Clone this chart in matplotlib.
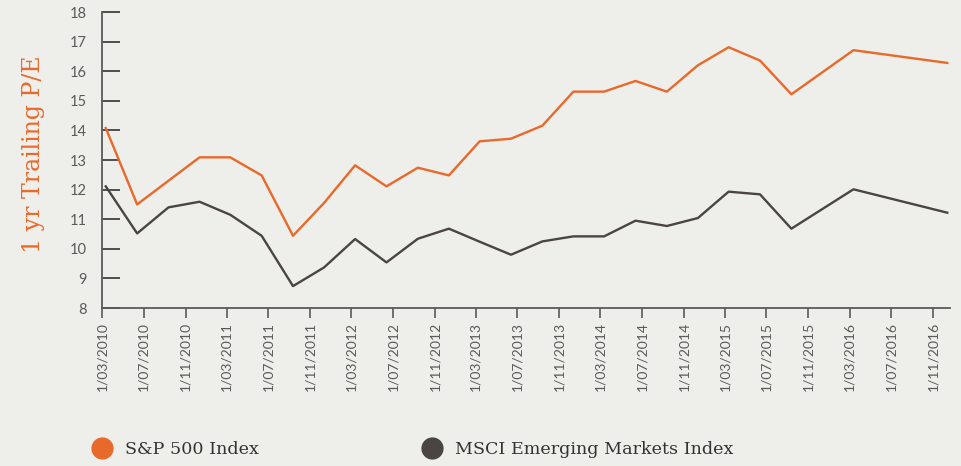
import matplotlib
matplotlib.use("Agg")
import matplotlib.pyplot as plt
import matplotlib.dates as mdates
from matplotlib.lines import Line2D
import numpy as np

dates = ["2010-03-12", "2010-06-12", "2010-09-12", "2010-12-12", "2011-03-12",
         "2011-06-12", "2011-09-12", "2011-12-12", "2012-03-12", "2012-06-12",
         "2012-09-12", "2012-12-12", "2013-03-12", "2013-06-12", "2013-09-12",
         "2013-12-12", "2014-03-12", "2014-06-12", "2014-09-12", "2014-12-12",
         "2015-03-12", "2015-06-12", "2015-09-12", "2016-03-12", "2016-12-12"]
sp500 = [14.08, 11.50, 12.30, 13.09, 13.09, 12.48, 10.44, 11.55, 12.82, 12.11,
         12.74, 12.48, 13.63, 13.72, 14.16, 15.31, 15.31, 15.67, 15.31, 16.20,
         16.81, 16.36, 15.22, 16.71, 16.28]
msci_em = [12.11, 10.52, 11.40, 11.59, 11.15, 10.44, 8.74, 9.37, 10.33, 9.54,
           10.34, 10.68, 10.24, 9.80, 10.25, 10.42, 10.42, 10.95, 10.77, 11.04,
           11.93, 11.84, 10.68, 12.01, 11.22]
series_names = ["S&P 500 Index", "MSCI Emerging Markets Index"]
y_label = "1 yr Trailing P/E"
y_ticks = list(range(8, 19))

bg = "#EEEEEA"
orange = "#E9692A"
dark = "#4A4542"
axis_col = "#5A5A5A"

x = np.array(dates, dtype="datetime64[D]")

fig = plt.figure(figsize=(9.62, 4.66), dpi=100, facecolor=bg)
ax = fig.add_axes([102/962, 158/466, (950-102)/962, (454-158)/466], facecolor=bg)

ax.plot(x, sp500, color=orange, lw=1.7)
ax.plot(x, msci_em, color=dark, lw=1.7)

ax.set_ylim(8, 18)
ax.set_yticks(y_ticks)
ax.set_xlim(np.datetime64("2010-03-01"), np.datetime64("2016-12-20"))
ax.xaxis.set_major_locator(mdates.MonthLocator(bymonth=[3, 7, 11], bymonthday=1))
ax.xaxis.set_major_formatter(mdates.DateFormatter("1/%m/%Y"))

for s in ["top", "right"]:
    ax.spines[s].set_visible(False)
for s in ["left", "bottom"]:
    ax.spines[s].set_color(axis_col)
    ax.spines[s].set_linewidth(1.3)

ax.tick_params(axis="y", direction="in", length=13, width=1.2, color="#333333",
               labelsize=10.5, labelcolor=axis_col, pad=11)
ax.tick_params(axis="x", direction="out", length=7, width=1.2, color=axis_col,
               labelsize=10, labelcolor=axis_col, pad=3)
for lab in ax.get_yticklabels():
    lab.set_fontfamily("Lato")
    lab.set_horizontalalignment("right")
for lab in ax.get_xticklabels():
    lab.set_fontfamily("Lato")
    lab.set_rotation(90)
    lab.set_horizontalalignment("center")
    lab.set_verticalalignment("top")

ax.set_ylabel(y_label, color=orange, fontsize=17, fontfamily="DejaVu Serif")
ax.yaxis.set_label_coords(-0.067, 0.52)

handles = [Line2D([], [], ls="none", marker="o", markersize=15, color=orange),
           Line2D([], [], ls="none", marker="o", markersize=15, color=dark)]
leg = fig.legend(handles, series_names, loc="center left", bbox_to_anchor=(69/962, 1 - 450/466),
                 ncol=2, frameon=False, columnspacing=8.9, handletextpad=0.3,
                 prop={"family": "DejaVu Serif", "size": 12.6})
for t in leg.get_texts():
    t.set_color("#333333")

fig.savefig("out.png", dpi=100, facecolor=bg)
